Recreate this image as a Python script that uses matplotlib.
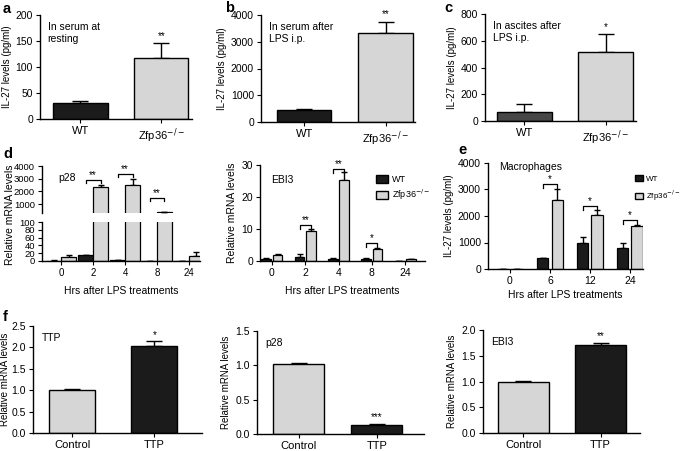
import numpy as np
import matplotlib
matplotlib.use("Agg")
import matplotlib.pyplot as plt
from matplotlib.patches import Patch

plt.rcParams['font.family'] = ['Liberation Sans', 'DejaVu Sans']
plt.rcParams['font.size'] = 7
plt.rcParams['axes.linewidth'] = 1.0
plt.rcParams['xtick.major.size'] = 3
plt.rcParams['ytick.major.size'] = 3
plt.rcParams['xtick.labelsize'] = 8
plt.rcParams['ytick.labelsize'] = 7.5
plt.rcParams['axes.labelsize'] = 7

KO = "Zfp36$^{-/-}$"
BLACK = "#1b1b1b"
GRAY = "#d6d6d6"

# serum / ascites panels (a, b, c)
geno = ["WT", KO]
a_vals = [30, 118]
a_err = [4, 28]
b_vals = [430, 3330]
b_err = [70, 420]
c_vals = [65, 515]
c_err = [65, 135]

# panel d, hours after LPS
hrs_d = ["0", "2", "4", "8", "24"]
p28_wt = [1, 16, 2, 0.5, 0.5]
p28_wt_err = [0.3, 0.5, 0.4, 0.2, 0.2]
p28_ko = [10, 2320, 2480, 330, 12]
p28_ko_err = [5, 150, 480, 15, 10]
ebi3_wt = [0.6, 1.3, 0.7, 0.6, 0.05]
ebi3_wt_err = [0.3, 0.9, 0.3, 0.2, 0.05]
ebi3_ko = [2.0, 9.3, 25.2, 3.8, 0.5]
ebi3_ko_err = [0.1, 0.6, 2.5, 0.4, 0.2]

# panel e, macrophages
hrs_e = ["0", "6", "12", "24"]
mac_wt = [10, 400, 1000, 780]
mac_wt_err = [5, 15, 200, 200]
mac_ko = [10, 2600, 2020, 1620]
mac_ko_err = [5, 430, 200, 30]

# panel f, overexpression
treat = ["Control", "TTP"]
ttp_vals = [1.01, 2.03]
ttp_err = [0.01, 0.11]
p28f_vals = [1.02, 0.13]
p28f_err = [0.01, 0.01]
ebi3f_vals = [1.0, 1.71]
ebi3f_err = [0.01, 0.04]

W, H = 685, 451
fig = plt.figure(figsize=(W / 100, H / 100), dpi=100)


def px_axes(l, t, r, b):
    ax = fig.add_axes([l / W, 1 - b / H, (r - l) / W, (b - t) / H])
    ax.spines['top'].set_visible(False)
    ax.spines['right'].set_visible(False)
    ax.tick_params(pad=2)
    return ax


def ebar(ax, x, y, e, width):
    ax.errorbar(x, y, yerr=[np.zeros(len(e)), e], fmt='none', ecolor='black',
                elinewidth=1.0, capsize=width, capthick=1.0, zorder=1)


def bracket(ax, x1, x2, y, d, stars, fs=7):
    ax.plot([x1, x1, x2, x2], [y - d, y, y, y - d], color='black', lw=0.9, clip_on=False)
    ax.text((x1 + x2) / 2, y, stars, ha='center', va='bottom', fontsize=fs, clip_on=False)


def two_bar(ax, vals, errs, labels, colors, width, xlim, ylim, yticks, fmt, ylabel,
            note, stars, ypad, lpad=3):
    x = np.arange(len(vals))
    ebar(ax, x, vals, errs, 6)
    ax.bar(x, vals, width=width, color=colors, edgecolor='black', linewidth=1.0, zorder=2)
    ax.set_xlim(*xlim)
    ax.set_ylim(*ylim)
    ax.set_yticks(yticks)
    ax.set_yticklabels([fmt.format(v) for v in yticks])
    ax.set_xticks(x)
    ax.set_xticklabels(labels)
    if ylabel:
        ax.set_ylabel(ylabel, labelpad=lpad)
    ax.text(0.05, 0.93, note, transform=ax.transAxes, ha='left', va='top', fontsize=7.5)
    for i, s in enumerate(stars):
        if s:
            ax.text(x[i], vals[i] + errs[i] + ypad, s, ha='center', va='bottom', fontsize=7)


IL = "IL-27 levels (pg/ml)"
RM = "Relative mRNA levels"

# a
ax = px_axes(40, 15, 192, 119)
two_bar(ax, a_vals, a_err, geno, [BLACK, GRAY], 0.67, (-0.5, 1.38), (0, 200),
        [0, 50, 100, 150, 200], "{:.0f}", IL, "In serum at\nresting", ["", "**"], 4)
# b
ax = px_axes(261, 15, 415, 122)
two_bar(ax, b_vals, b_err, geno, [BLACK, GRAY], 0.67, (-0.53, 1.36), (0, 4000),
        [0, 1000, 2000, 3000, 4000], "{:.0f}", IL, "In serum after\nLPS i.p.", ["", "**"], 80)
# c
ax = px_axes(485, 14, 636, 121)
two_bar(ax, c_vals, c_err, geno, ["#474747", GRAY], 0.67, (-0.48, 1.37), (0, 800),
        [0, 200, 400, 600, 800], "{:.0f}", IL, "In ascites after\nLPS i.p.", ["", "*"], 15)

# d left: p28 with broken axis
xd = np.arange(len(hrs_d))
wd = 0.46
up = px_axes(42, 166, 200, 213)
lo = px_axes(42, 222, 200, 261)
for axx in (up, lo):
    ebar(axx, xd - wd / 2, p28_wt, p28_wt_err, 2.5)
    ebar(axx, xd + wd / 2, p28_ko, p28_ko_err, 2.5)
    axx.bar(xd - wd / 2, p28_wt, width=wd, color=BLACK, edgecolor='black', linewidth=0.9, zorder=2)
    axx.bar(xd + wd / 2, p28_ko, width=wd, color=GRAY, edgecolor='black', linewidth=0.9, zorder=2)
    axx.set_xlim(-0.6, 4.34)
    axx.tick_params(axis='y', labelsize=6.8)
up.set_ylim(290, 4000)
up.set_yticks([1000, 2000, 3000, 4000])
up.spines['bottom'].set_visible(False)
up.set_xticks([])
lo.set_ylim(0, 100)
lo.set_yticks([0, 20, 40, 60, 80, 100])
lo.set_xticks(xd)
lo.set_xticklabels(hrs_d, fontsize=7)
lo.set_xlabel("Hrs after LPS treatments", fontsize=7.5, labelpad=6)
up.text(0.1, 0.85, "p28", transform=up.transAxes, ha='left', va='top', fontsize=7.5)
for i, yb in [(1, 2900), (2, 3370), (3, 1470)]:
    bracket(up, xd[i] - wd / 2, xd[i] + wd / 2, yb, 250, "**")
fig.text(10 / W, 1 - 215 / H, RM, rotation=90, ha='center', va='center', fontsize=7.5)
fig.text(3 / W, 1 - 154 / H, "d", fontsize=10.5, fontweight='bold', ha='left', va='center')

# d right: EBI3
ax = px_axes(260, 165, 425, 261)
w2 = 0.29
ebar(ax, xd - 0.17, ebi3_wt, ebi3_wt_err, 2.5)
ebar(ax, xd + 0.17, ebi3_ko, ebi3_ko_err, 2.5)
ax.bar(xd - 0.17, ebi3_wt, width=w2, color=BLACK, edgecolor='black', linewidth=0.9, zorder=2)
ax.bar(xd + 0.17, ebi3_ko, width=w2, color=GRAY, edgecolor='black', linewidth=0.9, zorder=2)
ax.set_xlim(-0.36, 4.6)
ax.set_ylim(0, 30)
ax.set_yticks([0, 10, 20, 30])
ax.set_xticks(xd)
ax.set_xticklabels(hrs_d, fontsize=7.5)
ax.set_xlabel("Hrs after LPS treatments", fontsize=7.5, labelpad=6)
ax.set_ylabel(RM, labelpad=3, fontsize=7.5)
ax.text(0.07, 0.9, "EBI3", transform=ax.transAxes, ha='left', va='top', fontsize=7.5)
bracket(ax, 1 - 0.17, 1 + 0.17, 11.3, 1.2, "**")
bracket(ax, 2 - 0.17, 2 + 0.17, 28.7, 1.2, "**")
bracket(ax, 3 - 0.17, 3 + 0.17, 5.5, 1.2, "*")
ax.legend(handles=[Patch(facecolor=BLACK, edgecolor='black', label="WT"),
                   Patch(facecolor=GRAY, edgecolor='black', label=KO)],
          loc='upper left', bbox_to_anchor=(0.68, 0.93), frameon=False, fontsize=6.5,
          handlelength=1.3, handleheight=0.9, handletextpad=0.5, labelspacing=0.4,
          borderaxespad=0)

# e
xe = np.arange(len(hrs_e))
ax = px_axes(488, 163, 643, 269)
we = 0.28
ebar(ax, xe - 0.18, mac_wt, mac_wt_err, 2.5)
ebar(ax, xe + 0.18, mac_ko, mac_ko_err, 2.5)
ax.bar(xe - 0.18, mac_wt, width=we, color=BLACK, edgecolor='black', linewidth=0.9, zorder=2)
ax.bar(xe + 0.18, mac_ko, width=we, color=GRAY, edgecolor='black', linewidth=0.9, zorder=2)
ax.set_xlim(-0.55, 3.33)
ax.set_ylim(0, 4000)
ax.set_yticks([0, 1000, 2000, 3000, 4000])
ax.set_xticks(xe)
ax.set_xticklabels(hrs_e, fontsize=7.5)
ax.set_xlabel("Hrs after LPS treatments", fontsize=7.5, labelpad=3)
ax.set_ylabel(IL, labelpad=3)
ax.text(0.07, 1.01, "Macrophages", transform=ax.transAxes, ha='left', va='top', fontsize=7.5)
for i, yb in [(1, 3200), (2, 2380), (3, 1850)]:
    bracket(ax, xe[i] - 0.18, xe[i] + 0.18, yb, 150, "*")
ax.legend(handles=[Patch(facecolor=BLACK, edgecolor='black', label="WT"),
                   Patch(facecolor=GRAY, edgecolor='black', label=KO)],
          loc='upper left', bbox_to_anchor=(0.925, 0.92), frameon=False, fontsize=5.8,
          handlelength=1.1, handleheight=0.9, handletextpad=0.3, labelspacing=0.7,
          borderaxespad=0)
fig.text(458 / W, 1 - 150 / H, "e", fontsize=10.5, fontweight='bold', ha='left', va='center')

# f
ax = px_axes(33, 326, 202, 433)
two_bar(ax, ttp_vals, ttp_err, treat, [GRAY, BLACK], 0.56, (-0.48, 1.58), (0, 2.5),
        [0, 0.5, 1.0, 1.5, 2.0, 2.5], "{:.1f}", RM, "TTP", ["", "*"], 0.04, lpad=1)
ax = px_axes(257, 331, 424, 434)
two_bar(ax, p28f_vals, p28f_err, treat, [GRAY, BLACK], 0.65, (-0.53, 1.6), (0, 1.5),
        [0, 0.5, 1.0, 1.5], "{:.1f}", RM, "p28", ["", "***"], 0.04)
ax = px_axes(483, 330, 640, 433)
two_bar(ax, ebi3f_vals, ebi3f_err, treat, [GRAY, BLACK], 0.66, (-0.52, 1.51), (0, 2.0),
        [0, 0.5, 1.0, 1.5, 2.0], "{:.1f}", RM, "EBI3", ["", "**"], 0.03)

# panel letters
fig.text(3 / W, 1 - 9 / H, "a", fontsize=10.5, fontweight='bold', ha='left', va='center')
fig.text(225 / W, 1 - 8 / H, "b", fontsize=10.5, fontweight='bold', ha='left', va='center')
fig.text(444 / W, 1 - 8 / H, "c", fontsize=10.5, fontweight='bold', ha='left', va='center')
fig.text(3 / W, 1 - 317 / H, "f", fontsize=10.5, fontweight='bold', ha='left', va='center')

fig.savefig("out.png", dpi=100)
